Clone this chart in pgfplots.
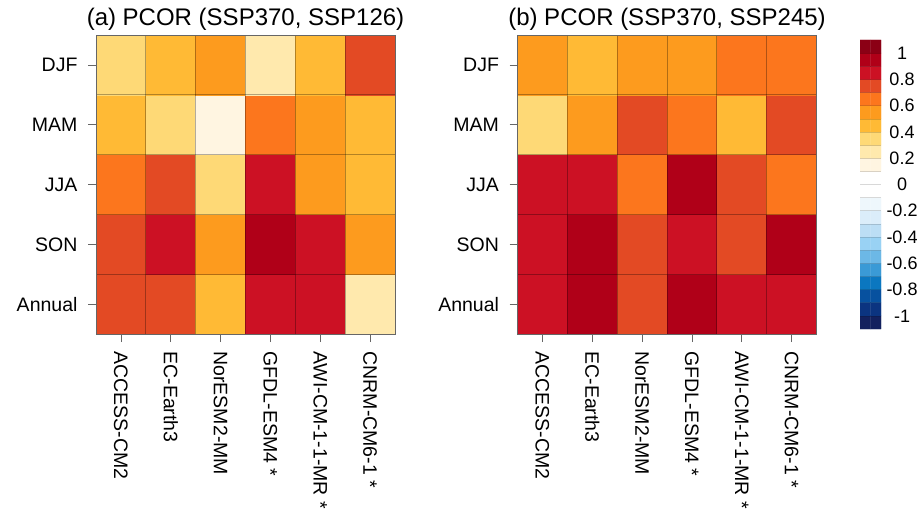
\documentclass[border=0pt]{standalone}
\usepackage{fontspec}
\setmainfont{Liberation Sans}
\usepackage{pgfplots}
\pgfplotsset{compat=1.18}
\usepackage{pgfplotstable}

\pgfplotstableread{
x y c
0 0 0.75
1 0 0.75
2 0 0.45
3 0 0.85
4 0 0.85
5 0 0.25
0 1 0.75
1 1 0.85
2 1 0.55
3 1 0.95
4 1 0.85
5 1 0.55
0 2 0.65
1 2 0.75
2 2 0.35
3 2 0.85
4 2 0.55
5 2 0.45
0 3 0.45
1 3 0.35
2 3 0.15
3 3 0.65
4 3 0.55
5 3 0.45
0 4 0.35
1 4 0.45
2 4 0.55
3 4 0.25
4 4 0.45
5 4 0.75
}\dataA

\pgfplotstableread{
x y c
0 0 0.85
1 0 0.95
2 0 0.75
3 0 0.95
4 0 0.85
5 0 0.85
0 1 0.85
1 1 0.95
2 1 0.75
3 1 0.85
4 1 0.75
5 1 0.95
0 2 0.85
1 2 0.85
2 2 0.65
3 2 0.95
4 2 0.75
5 2 0.65
0 3 0.35
1 3 0.55
2 3 0.75
3 3 0.65
4 3 0.45
5 3 0.75
0 4 0.55
1 4 0.45
2 4 0.55
3 4 0.55
4 4 0.65
5 4 0.65
}\dataB

\pgfplotstableread{
x y c
0 -1.05 -1.05
1 -1.05 -1.05
0 -0.95 -0.95
1 -0.95 -0.95
0 -0.85 -0.85
1 -0.85 -0.85
0 -0.75 -0.75
1 -0.75 -0.75
0 -0.65 -0.65
1 -0.65 -0.65
0 -0.55 -0.55
1 -0.55 -0.55
0 -0.45 -0.45
1 -0.45 -0.45
0 -0.35 -0.35
1 -0.35 -0.35
0 -0.25 -0.25
1 -0.25 -0.25
0 -0.15 -0.15
1 -0.15 -0.15
0 -0.05 -0.05
1 -0.05 -0.05
0 0.05 0.05
1 0.05 0.05
0 0.15 0.15
1 0.15 0.15
0 0.25 0.25
1 0.25 0.25
0 0.35 0.35
1 0.35 0.35
0 0.45 0.45
1 0.45 0.45
0 0.55 0.55
1 0.55 0.55
0 0.65 0.65
1 0.65 0.65
0 0.75 0.75
1 0.75 0.75
0 0.85 0.85
1 0.85 0.85
0 0.95 0.95
1 0.95 0.95
0 1.05 1.05
1 1.05 1.05
}\dataCB

\pgfplotsset{
  colormap={pcor}{
    rgb255=(19,33,94) rgb255=(11,52,128) rgb255=(7,81,159) rgb255=(11,119,192)
    rgb255=(58,154,214) rgb255=(108,184,230) rgb255=(153,210,244) rgb255=(188,222,245)
    rgb255=(219,237,250) rgb255=(238,247,252) rgb255=(255,255,255) rgb255=(255,255,255)
    rgb255=(255,245,225) rgb255=(255,233,173) rgb255=(254,217,118) rgb255=(255,186,53)
    rgb255=(253,155,30) rgb255=(252,118,29) rgb255=(227,74,36) rgb255=(204,17,36)
    rgb255=(176,0,24) rgb255=(139,0,21)
  },
  heat/.style={
    scale only axis, width=299pt, height=299pt,
    anchor=south west,
    xmin=-0.5, xmax=5.5, ymin=-0.5, ymax=4.5,
    xtick={0,1,2,3,4,5}, ytick={0,1,2,3,4},
    xticklabels={ACCESS-CM2, EC-Earth3, NorESM2-MM, GFDL-ESM4 *, AWI-CM-1-1-MR *, CNRM-CM6-1 *},
    yticklabels={Annual, SON, JJA, MAM, DJF},
    tick align=outside, major tick length=8pt,
    xtick pos=bottom, ytick pos=left,
    major tick style={black!60, line width=0.7pt},
    axis line style={black!60, line width=0.7pt},
    xticklabel style={rotate=-90, anchor=west, font=\fontsize{19.5}{20}\selectfont},
    yticklabel style={font=\fontsize{19.5}{20}\selectfont},
    xticklabel shift=6pt, yticklabel shift=7pt,
    colormap name=pcor, colormap access=piecewise constant,
    point meta min=-1.1, point meta max=1.1,
    axis on top,
    minor xtick={0.5,1.5,2.5,3.5,4.5}, minor ytick={0.5,1.5,2.5,3.5},
    minor tick length=0pt,
    minor grid style={black, opacity=0.3, line width=0.7pt},
    grid=minor,
    title style={font=\fontsize{24}{28}\selectfont, at={(0.5,1)}, anchor=base, yshift=4pt},
  }
}

\begin{document}
\begin{tikzpicture}
\useasboundingbox (0,0) rectangle (921pt,515pt);

\begin{axis}[heat, at={(96pt,181pt)}, title={(a) PCOR (SSP370, SSP126)}]
\addplot[matrix plot*, mesh/cols=6, point meta=explicit, shader=flat corner] table[x=x, y=y, meta=c] {\dataA};
\end{axis}

\begin{axis}[heat, at={(517.5pt,181pt)}, title={(b) PCOR (SSP370, SSP245)}]
\addplot[matrix plot*, mesh/cols=6, point meta=explicit, shader=flat corner] table[x=x, y=y, meta=c] {\dataB};
\end{axis}

\begin{axis}[
  scale only axis, width=21pt, height=289pt, anchor=south west,
  at={(860pt,186pt)},
  xmin=-0.5, xmax=1.5, ymin=-1.1, ymax=1.1,
  xtick=\empty,
  ytick={-1,-0.8,-0.6,-0.4,-0.2,0,0.2,0.4,0.6,0.8,1},
  yticklabels={-1,-0.8,-0.6,-0.4,-0.2,0,0.2,0.4,0.6,0.8,1},
  ytick pos=right, major tick length=0pt,
  yticklabel style={anchor=center, xshift=21pt, font=\fontsize{18}{20}\selectfont},
  axis line style={draw=none},
  colormap name=pcor, colormap access=piecewise constant,
  point meta min=-1.1, point meta max=1.1,
  axis on top,
  minor ytick={-1.0,-0.9,-0.8,-0.7,-0.6,-0.5,-0.4,-0.3,-0.2,-0.1,0,0.1,0.2,0.3,0.4,0.5,0.6,0.7,0.8,0.9,1.0},
  minor tick length=0pt,
  minor grid style={black, opacity=0.15, line width=0.6pt},
  ymajorgrids=false, yminorgrids=true,
]
\addplot[matrix plot*, mesh/cols=2, point meta=explicit, shader=flat corner] table[x=x, y=y, meta=c] {\dataCB};
\end{axis}
\end{tikzpicture}
\end{document}
